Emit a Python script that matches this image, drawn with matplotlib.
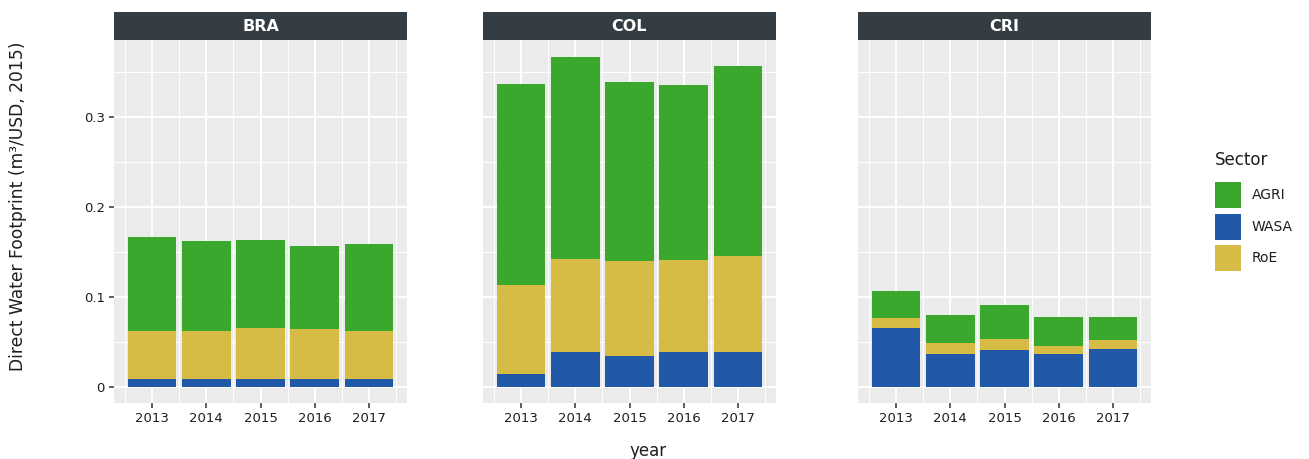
import numpy as np
import matplotlib.pyplot as plt
from matplotlib.patches import Rectangle

plt.rcParams['font.family'] = ['DejaVu Sans']

years = [2013, 2014, 2015, 2016, 2017]
countries = ['BRA', 'COL', 'CRI']
sectors = ['AGRI', 'WASA', 'RoE']
colors = {'AGRI': '#3aa82c', 'WASA': '#2258a8', 'RoE': '#d6bb45'}

# direct water footprint by sector (m3 per USD, 2015)
wasa = {
    'BRA': [0.0086, 0.0086, 0.0086, 0.0086, 0.0086],
    'COL': [0.0141, 0.0385, 0.0340, 0.0385, 0.0385],
    'CRI': [0.0650, 0.0363, 0.0408, 0.0363, 0.0419],
}
roe = {
    'BRA': [0.0534, 0.0534, 0.0564, 0.0554, 0.0534],
    'COL': [0.0989, 0.1035, 0.1057, 0.1025, 0.1065],
    'CRI': [0.0113, 0.0122, 0.0122, 0.0087, 0.0101],
}
agri = {
    'BRA': [0.104, 0.100, 0.098, 0.092, 0.096],
    'COL': [0.223, 0.224, 0.199, 0.194, 0.211],
    'CRI': [0.0297, 0.0312, 0.0380, 0.0324, 0.0254],
}

W, H = 1309, 459
fig = plt.figure(figsize=(W / 100, H / 100), dpi=100)

panel_x = [114, 483, 858]
panel_w = 293
p_top, p_bot = 40, 403
strip_top = 12
txt = '#1e1e1e'

for i, c in enumerate(countries):
    ax = fig.add_axes([panel_x[i] / W, 1 - p_bot / H, panel_w / W, (p_bot - p_top) / H])
    ax.set_facecolor('#ebebeb')
    for s in ax.spines.values():
        s.set_visible(False)
    ax.set_xlim(2012.3, 2017.7)
    ax.set_ylim(-0.018, 0.385)
    ax.set_xticks(years)
    ax.set_xticks(np.arange(2012.5, 2018, 1.0), minor=True)
    ax.set_yticks([0, 0.1, 0.2, 0.3])
    ax.set_yticks([0.05, 0.15, 0.25, 0.35], minor=True)
    ax.set_yticklabels(['0', '0.1', '0.2', '0.3'])
    ax.grid(which='major', color='white', lw=1.4)
    ax.grid(which='minor', color='white', lw=0.7)
    ax.set_axisbelow(True)
    ax.tick_params(which='major', length=3.5, width=1.1, color='#333333',
                   labelsize=9.5, labelcolor=txt, pad=3)
    ax.tick_params(which='minor', length=0)
    if i > 0:
        ax.tick_params(axis='y', which='major', length=0, labelleft=False)

    w = np.array(wasa[c])
    r = np.array(roe[c])
    a = np.array(agri[c])
    ax.bar(years, w, width=0.9, color=colors['WASA'])
    ax.bar(years, r, width=0.9, bottom=w, color=colors['RoE'])
    ax.bar(years, a, width=0.9, bottom=w + r, color=colors['AGRI'])

    # facet strip
    sax = fig.add_axes([panel_x[i] / W, 1 - p_top / H, panel_w / W, (p_top - strip_top) / H])
    sax.set_facecolor('#333d43')
    sax.set_xticks([])
    sax.set_yticks([])
    for s in sax.spines.values():
        s.set_visible(False)
    sax.text(0.5, 0.47, c, color='white', fontsize=11.5, fontweight='bold',
             ha='center', va='center', transform=sax.transAxes)

fig.text(18 / W, 1 - 206 / H, 'Direct Water Footprint (m³/USD, 2015)',
         rotation=90, ha='center', va='center', fontsize=12.3, color=txt)
fig.text(648 / W, 1 - 451 / H, 'year', ha='center', va='center',
         fontsize=12, color=txt)

# legend drawn by hand: title, square keys, labels
fig.text(1215 / W, 1 - 160 / H, 'Sector', ha='left', va='center',
         fontsize=12, color=txt)
key_top = [182, 214, 245]
for s, kt in zip(sectors, key_top):
    fig.add_artist(Rectangle((1215 / W, 1 - (kt + 26) / H), 26 / W, 26 / H,
                             transform=fig.transFigure, facecolor=colors[s],
                             edgecolor='none'))
    fig.text(1252 / W, 1 - (kt + 13) / H, s, ha='left', va='center',
             fontsize=10, color=txt)

fig.savefig('out.png', dpi=100)
